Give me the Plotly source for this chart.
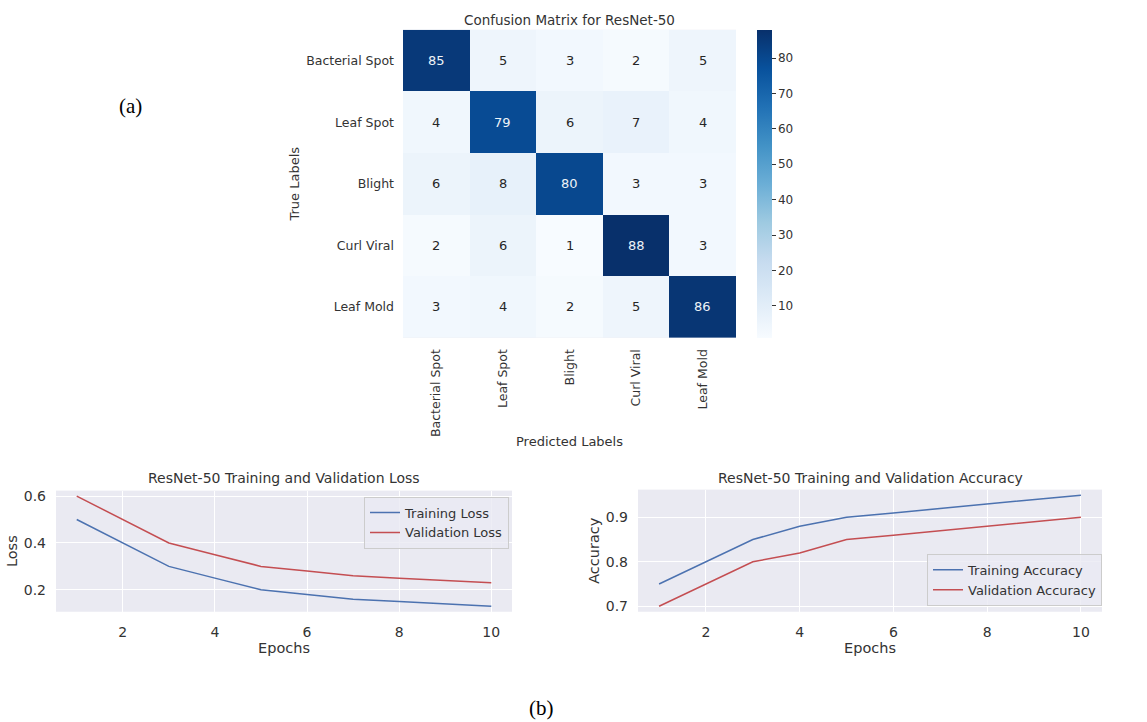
import plotly.graph_objects as go

# ---------------- data ----------------
classes = ["Bacterial Spot", "Leaf Spot", "Blight", "Curl Viral", "Leaf Mold"]
cm_bacterial_spot = [85, 5, 3, 2, 5]
cm_leaf_spot = [4, 79, 6, 7, 4]
cm_blight = [6, 8, 80, 3, 3]
cm_curl_viral = [2, 6, 1, 88, 3]
cm_leaf_mold = [3, 4, 2, 5, 86]
cm = [cm_bacterial_spot, cm_leaf_spot, cm_blight, cm_curl_viral, cm_leaf_mold]

epochs = [1, 2, 3, 4, 5, 6, 7, 8, 9, 10]
train_loss = [0.50, 0.40, 0.30, 0.25, 0.20, 0.18, 0.16, 0.15, 0.14, 0.13]
val_loss = [0.60, 0.50, 0.40, 0.35, 0.30, 0.28, 0.26, 0.25, 0.24, 0.23]
train_acc = [0.75, 0.80, 0.85, 0.88, 0.90, 0.91, 0.92, 0.93, 0.94, 0.95]
val_acc = [0.70, 0.75, 0.80, 0.82, 0.85, 0.86, 0.87, 0.88, 0.89, 0.90]

W, H = 1147, 722
FONT = "DejaVu Sans"
TXT = "#333333"
BLUE = "#4C72B0"
RED = "#C44E52"
BG = "#EAEAF2"

def px(x):
    return x / W

def py(y):
    return 1 - y / H

fig = go.Figure()

zmin = min(min(r) for r in cm)
zmax = max(max(r) for r in cm)

fig.add_trace(go.Heatmap(
    z=cm, x=classes, y=classes, xaxis="x", yaxis="y",
    colorscale="Blues", zmin=zmin, zmax=zmax, xgap=0, ygap=0,
    showscale=True, hoverinfo="skip",
    colorbar=dict(
        x=px(757), xanchor="left", xref="paper", xpad=0, ypad=0,
        y=(py(337) + py(27)) / 2, yanchor="middle",
        len=py(27) - py(337), lenmode="fraction",
        thickness=15, outlinewidth=0,
        tickvals=[10, 20, 30, 40, 50, 60, 70, 80],
        ticks="outside", ticklen=4, tickcolor=TXT, tickwidth=1,
        tickfont=dict(family=FONT, size=12, color=TXT),
    ),
))

# cell annotations
annotations = []
for i, row in enumerate(cm):
    for j, v in enumerate(row):
        color = "#eef3f8" if v > 50 else "#262626"
        annotations.append(dict(
            x=classes[j], y=classes[i], xref="x", yref="y", text=str(v),
            showarrow=False, font=dict(family=FONT, size=13, color=color),
        ))

# loss traces
fig.add_trace(go.Scatter(x=epochs, y=train_loss, mode="lines", name="Training Loss",
                         line=dict(color=BLUE, width=1.5), xaxis="x2", yaxis="y2",
                         legend="legend"))
fig.add_trace(go.Scatter(x=epochs, y=val_loss, mode="lines", name="Validation Loss",
                         line=dict(color=RED, width=1.5), xaxis="x2", yaxis="y2",
                         legend="legend"))
# accuracy traces
fig.add_trace(go.Scatter(x=epochs, y=train_acc, mode="lines", name="Training Accuracy",
                         line=dict(color=BLUE, width=1.5), xaxis="x3", yaxis="y3",
                         legend="legend2"))
fig.add_trace(go.Scatter(x=epochs, y=val_acc, mode="lines", name="Validation Accuracy",
                         line=dict(color=RED, width=1.5), xaxis="x3", yaxis="y3",
                         legend="legend2"))

def lm(lo, hi):
    m = (hi - lo) * 0.05
    return [lo - m, hi + m]

tickfont = dict(family=FONT, size=14, color=TXT)
titlefont = dict(family=FONT, size=14.5, color=TXT)

line_axis = dict(showgrid=True, gridcolor="white", gridwidth=1, zeroline=False,
                 showline=False, ticks="", tickfont=tickfont)

hm_font = dict(family=FONT, size=12.5, color=TXT)

fig.update_layout(
    width=W, height=H,
    margin=dict(l=0, r=0, t=0, b=0),
    paper_bgcolor="white",
    plot_bgcolor=BG,
    font=dict(family=FONT, color=TXT),
    xaxis=dict(domain=[px(403), px(736)], anchor="y", tickangle=-90,
               tickfont=hm_font, ticks="", ticklabelstandoff=8,
               showgrid=False, zeroline=False, showline=False,
               title=dict(text="Predicted Labels", font=dict(family=FONT, size=13, color=TXT),
                          standoff=0)),
    yaxis=dict(domain=[py(337), py(27)], anchor="x", autorange="reversed",
               tickfont=hm_font, ticks="", ticklabelstandoff=8,
               showgrid=False, zeroline=False, showline=False,
               title=dict(text="True Labels", font=dict(family=FONT, size=13, color=TXT),
                          standoff=3)),
    xaxis2=dict(domain=[px(56), px(512)], anchor="y2", range=lm(1, 10),
                tickvals=[2, 4, 6, 8, 10], ticklabelstandoff=10,
                title=dict(text="Epochs", font=titlefont, standoff=4), **line_axis),
    yaxis2=dict(domain=[py(613), py(491)], anchor="x2", range=lm(0.13, 0.60),
                tickvals=[0.2, 0.4, 0.6], tickformat=".1f", ticklabelstandoff=9,
                title=dict(text="Loss", font=titlefont, standoff=2), **line_axis),
    xaxis3=dict(domain=[px(638), px(1102)], anchor="y3", range=lm(1, 10),
                tickvals=[2, 4, 6, 8, 10], ticklabelstandoff=10,
                title=dict(text="Epochs", font=titlefont, standoff=4), **line_axis),
    yaxis3=dict(domain=[py(613), py(490)], anchor="x3", range=lm(0.70, 0.95),
                tickvals=[0.7, 0.8, 0.9], tickformat=".1f", ticklabelstandoff=9,
                title=dict(text="Accuracy", font=titlefont, standoff=2), **line_axis),
    legend=dict(x=px(509), xanchor="right", y=py(497), yanchor="top",
                bgcolor="rgba(234,234,242,0.8)", bordercolor="#cccccc", borderwidth=1,
                font=dict(family=FONT, size=13, color=TXT), tracegroupgap=0,
                itemwidth=30),
    legend2=dict(x=px(1102), xanchor="right", y=py(607), yanchor="bottom",
                 bgcolor="rgba(234,234,242,0.8)", bordercolor="#cccccc", borderwidth=1,
                 font=dict(family=FONT, size=13, color=TXT), tracegroupgap=0,
                 itemwidth=30),
    showlegend=True,
)

def label(text, x, y, size, family=FONT, color=TXT):
    return dict(text=text, x=px(x), y=py(y), xref="paper", yref="paper",
                xanchor="center", yanchor="middle", showarrow=False,
                font=dict(family=family, size=size, color=color))

annotations += [
    label("Confusion Matrix for ResNet-50", (403 + 736) / 2, 17, 13.5),
    label("ResNet-50 Training and Validation Loss", (56 + 512) / 2, 478, 14),
    label("ResNet-50 Training and Validation Accuracy", (638 + 1102) / 2, 478, 14),
    label("(a)", 130, 104, 21, family="Liberation Serif", color="black"),
    label("(b)", 541, 710, 21, family="Liberation Serif", color="black"),
]
fig.update_layout(annotations=annotations)

fig.write_html(
    "out.html",
    config={"displayModeBar": False},
    post_script="document.body.style.margin='0';document.body.style.overflow='hidden';",
)
